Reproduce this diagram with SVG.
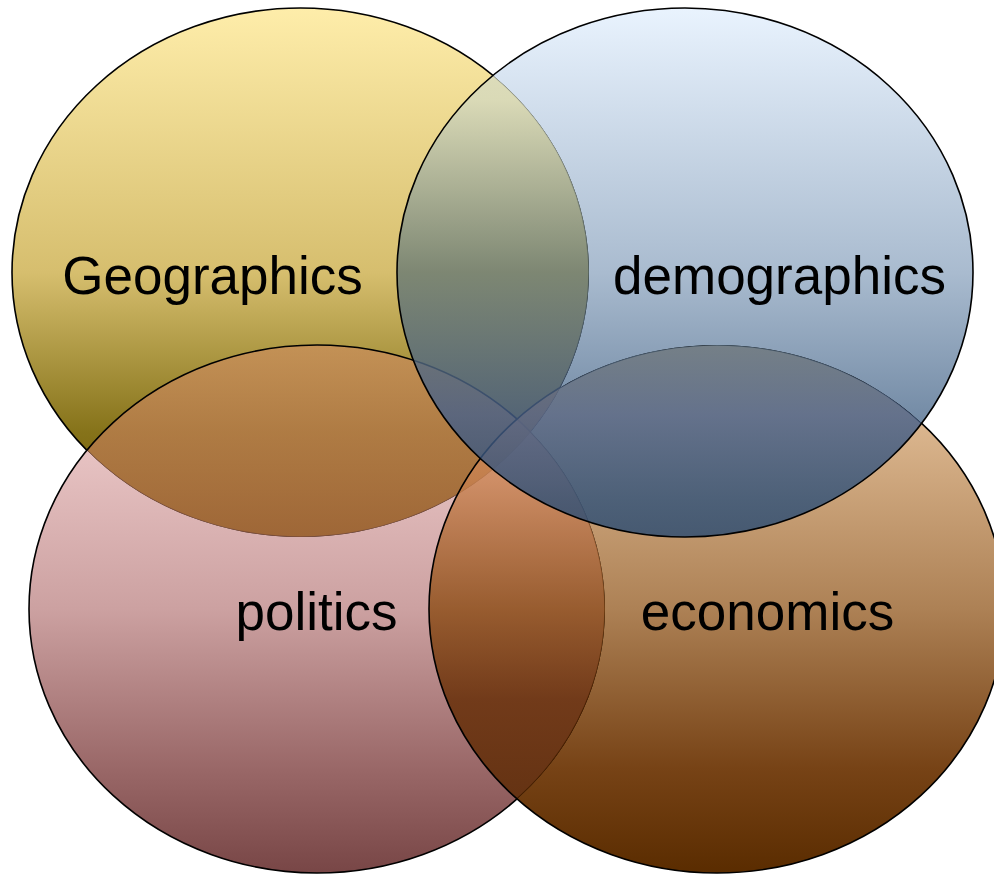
<svg xmlns="http://www.w3.org/2000/svg" width="994" height="874" viewBox="0 0 994 874">
<style>
.edge{fill:none;stroke:#000;stroke-width:1.6}
.lbl{font-family:"Liberation Sans",Arial,sans-serif;font-size:53px;fill:#000;text-anchor:middle}
</style>
<defs>
<linearGradient id="gGeo" x1="0" y1="0" x2="0" y2="1">
<stop offset="0" stop-color="#FEEDAA"/><stop offset="0.5" stop-color="#D6BE6E"/><stop offset="0.8" stop-color="#86731A"/><stop offset="1" stop-color="#6B5500"/>
</linearGradient>
<linearGradient id="gPol" x1="0" y1="0" x2="0" y2="1">
<stop offset="0" stop-color="#F9D9D9"/><stop offset="0.5" stop-color="#CCA1A1"/><stop offset="0.8" stop-color="#9A6868"/><stop offset="1" stop-color="#784646"/>
</linearGradient>
<linearGradient id="gPolOv" x1="0" y1="0" x2="0" y2="1">
<stop offset="0" stop-color="#CB8D5C"/><stop offset="0.364" stop-color="#B46E4E"/><stop offset="1" stop-color="#7A3A30"/>
</linearGradient>
<linearGradient id="gEco" x1="0" y1="0" x2="0" y2="1">
<stop offset="0" stop-color="#EFCDA7"/><stop offset="0.5" stop-color="#AD8155"/><stop offset="0.8" stop-color="#774316"/><stop offset="1" stop-color="#5A2C00"/>
</linearGradient>
<linearGradient id="gEcoOv" x1="0" y1="0" x2="0" y2="1">
<stop offset="0" stop-color="#E6A070"/><stop offset="0.256" stop-color="#C98250"/><stop offset="0.5" stop-color="#8B4B13"/><stop offset="0.672" stop-color="#622900"/><stop offset="0.862" stop-color="#5A2800"/><stop offset="1" stop-color="#552400"/>
</linearGradient>
<linearGradient id="gDem" x1="0" y1="0" x2="0" y2="1">
<stop offset="0" stop-color="#E9F3FE"/><stop offset="0.5" stop-color="#A9BBCF"/><stop offset="0.8" stop-color="#6F87A2"/><stop offset="1" stop-color="#4A5F7A"/>
</linearGradient>
<linearGradient id="gDemOv" x1="0" y1="0" x2="0" y2="1">
<stop offset="0" stop-color="#DEE1C8"/><stop offset="0.174" stop-color="#D4D9BF"/><stop offset="0.5" stop-color="#677974"/><stop offset="0.77" stop-color="#46608A"/><stop offset="0.93" stop-color="#2E5078"/><stop offset="1" stop-color="#284A72"/>
</linearGradient>
<clipPath id="inGeo"><ellipse cx="300.5" cy="272.5" rx="288.5" ry="264.5"/></clipPath>
<clipPath id="notGeo"><path clip-rule="evenodd" d="M-20,-20H1020V900H-20Z M12,272.5 a288.5,264.5 0 1,0 577,0 a288.5,264.5 0 1,0 -577,0 Z"/></clipPath>
<clipPath id="notPol"><path clip-rule="evenodd" d="M-20,-20H1020V900H-20Z M29,609 a288,264 0 1,0 576,0 a288,264 0 1,0 -576,0 Z"/></clipPath>
<clipPath id="notEco"><path clip-rule="evenodd" d="M-20,-20H1020V900H-20Z M429,609 a288,264 0 1,0 576,0 a288,264 0 1,0 -576,0 Z"/></clipPath>
<clipPath id="inGP"><ellipse cx="300.5" cy="272.5" rx="288.5" ry="264.5"/><ellipse cx="317" cy="609" rx="288" ry="264"/></clipPath>
<clipPath id="inGPE"><ellipse cx="300.5" cy="272.5" rx="288.5" ry="264.5"/><ellipse cx="317" cy="609" rx="288" ry="264"/><ellipse cx="717" cy="609" rx="288" ry="264"/></clipPath>
</defs>

<g id="geographics">
<ellipse cx="300.5" cy="272.5" rx="288.5" ry="264.5" fill="url(#gGeo)"/>
<ellipse class="edge" cx="300.5" cy="272.5" rx="288.5" ry="264.5"/>
<text class="lbl" x="212.5" y="293.5">Geographics</text>
</g>

<g id="politics">
<ellipse cx="317" cy="609" rx="288" ry="264" fill="url(#gPol)" clip-path="url(#notGeo)"/>
<ellipse cx="317" cy="609" rx="288" ry="264" fill="url(#gPolOv)" fill-opacity="0.7" clip-path="url(#inGeo)"/>
<ellipse class="edge" cx="317" cy="609" rx="288" ry="264"/>
<text class="lbl" x="316.5" y="630">politics</text>
</g>

<g id="economics">
<g clip-path="url(#notGeo)"><ellipse cx="717" cy="609" rx="288" ry="264" fill="url(#gEco)" clip-path="url(#notPol)"/></g>
<ellipse cx="717" cy="609" rx="288" ry="264" fill="url(#gEcoOv)" fill-opacity="0.8" clip-path="url(#inGP)"/>
<ellipse class="edge" cx="717" cy="609" rx="288" ry="264"/>
<text class="lbl" x="767.5" y="630">economics</text>
</g>

<g id="demographics">
<g clip-path="url(#notGeo)"><g clip-path="url(#notPol)"><ellipse cx="685" cy="272.5" rx="288" ry="264.5" fill="url(#gDem)" clip-path="url(#notEco)"/></g></g>
<ellipse cx="685" cy="272.5" rx="288" ry="264.5" fill="url(#gDemOv)" fill-opacity="0.8" clip-path="url(#inGPE)"/>
<ellipse class="edge" cx="685" cy="272.5" rx="288" ry="264.5"/>
<text class="lbl" x="779.5" y="293.5">demographics</text>
</g>

<g id="connectors"/>
</svg>
